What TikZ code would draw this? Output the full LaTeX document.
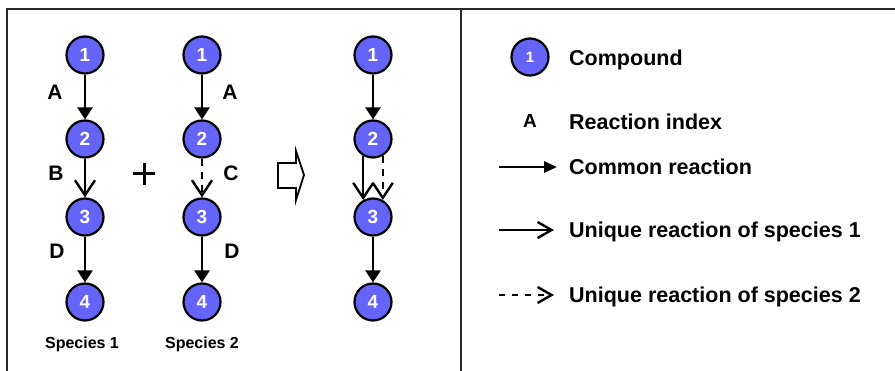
\documentclass[tikz,border=0pt]{standalone}
\usepackage{fontspec}
\setmainfont{Liberation Sans}
\usetikzlibrary{arrows.meta}

\begin{document}
\begin{tikzpicture}[x=1pt,y=-1pt,line cap=butt,
	cpd/.style={circle, draw=black, line width=2.2pt, fill=cpdblue, text=white, minimum size=37pt, inner sep=0pt, font=\fontsize{19pt}{19pt}\selectfont\bfseries},
	idx/.style={inner sep=0pt, font=\fontsize{21pt}{21pt}\selectfont\bfseries},
	legtxt/.style={anchor=west, inner sep=0pt, text depth=0pt, font=\fontsize{21.5pt}{21.5pt}\selectfont\bfseries},
	spc/.style={inner sep=0pt, text depth=0pt, font=\fontsize{16pt}{16pt}\selectfont\bfseries},
	common/.style={line width=2.7pt, -{Triangle[length=12pt,width=15pt]}},
	uniqA/.style={line width=2.4pt, -{Straight Barb[length=15pt,width=20pt]}},
	uniqB/.style={uniqA, dash pattern=on 7pt off 6pt},
	]
					\definecolor{cpdblue}{RGB}{100, 100, 248}
					\definecolor{framegray}{RGB}{40, 40, 40}
					\useasboundingbox (0,0) rectangle (895,371);
					\draw [line width=2.0pt, framegray ]  (7,375) -- (7,9) -- (900,9) ;
					\draw [line width=2.0pt, framegray ]  (461,9) -- (461,375) ;
					% species 1
					\node[cpd] (s1a) at (85,55) {1};
					\node[cpd] (s1b) at (85,139) {2};
					\node[cpd] (s1c) at (85,217) {3};
					\node[cpd] (s1d) at (85,302) {4};
					\draw[common] (s1a) -- (s1b);
					\draw[uniqA] (s1b) -- (s1c);
					\draw[common] (s1c) -- (s1d);
					\node[idx] (r1A) at (55,92) {A};
					\node[idx] (r1B) at (56,173) {B};
					\node[idx] (r1D) at (57,251) {D};
					\node[spc] (sp1) at (82,343) {Species 1};
					% species 2
					\node[cpd] (s2a) at (202,55) {1};
					\node[cpd] (s2b) at (202,139) {2};
					\node[cpd] (s2c) at (202,217) {3};
					\node[cpd] (s2d) at (202,302) {4};
					\draw[common] (s2a) -- (s2b);
					\draw[uniqB] (s2b) -- (s2c);
					\draw[common] (s2c) -- (s2d);
					\node[idx] (r2A) at (230,92) {A};
					\node[idx] (r2C) at (231,173) {C};
					\node[idx] (r2D) at (232,251) {D};
					\node[spc] (sp2) at (202,343) {Species 2};
					% plus and block arrow
					\draw [line width=3.0pt ]  (133,174) -- (155,174) ;
					\draw [line width=3.0pt ]  (144,163) -- (144,185) ;
					\draw [line width=1.8pt, line join=miter ]  (278,163) -- (296,163) -- (296,151) -- (304,175) -- (296,200) -- (296,188) -- (278,188) -- cycle;
					% merged pathway
					\node[cpd] (ma) at (373,55) {1};
					\node[cpd] (mb) at (373,139) {2};
					\node[cpd] (mc) at (373,217) {3};
					\node[cpd] (md) at (373,302) {4};
					\draw[common] (ma) -- (mb);
					\draw[uniqA] (mb.240) -- (mc.120);
					\draw[uniqB] (mb.300) -- (mc.60);
					\draw[common] (mc) -- (md);
					% legend
					\node[cpd, font=\fontsize{15pt}{15pt}\selectfont\bfseries] (lcpd) at (530,57) {1};
					\node[legtxt] (lt1) at (569,58) {Compound};
					\node[idx, font=\fontsize{19pt}{19pt}\selectfont\bfseries] (lidx) at (530,121) {A};
					\node[legtxt] (lt2) at (569,122) {Reaction index};
					\coordinate (lc0) at (499,167);
					\coordinate (lc1) at (557,167);
					\draw[common, -{Triangle[length=13pt,width=11pt]}] (lc0) -- (lc1);
					\node[legtxt] (lt3) at (569,167) {Common reaction};
					\coordinate (lu0) at (499,230);
					\coordinate (lu1) at (554,230);
					\draw[uniqA, -{Straight Barb[length=14pt,width=16pt]}] (lu0) -- (lu1);
					\node[legtxt] (lt4) at (569,230) {Unique reaction of species 1};
					\coordinate (lv0) at (499,295);
					\coordinate (lv1) at (554,295);
					\draw[uniqB, dash pattern=on 6pt off 7pt, -{Straight Barb[length=14pt,width=16pt]}] (lv0) -- (lv1);
					\node[legtxt] (lt5) at (569,295) {Unique reaction of species 2};
\end{tikzpicture}
\end{document}
